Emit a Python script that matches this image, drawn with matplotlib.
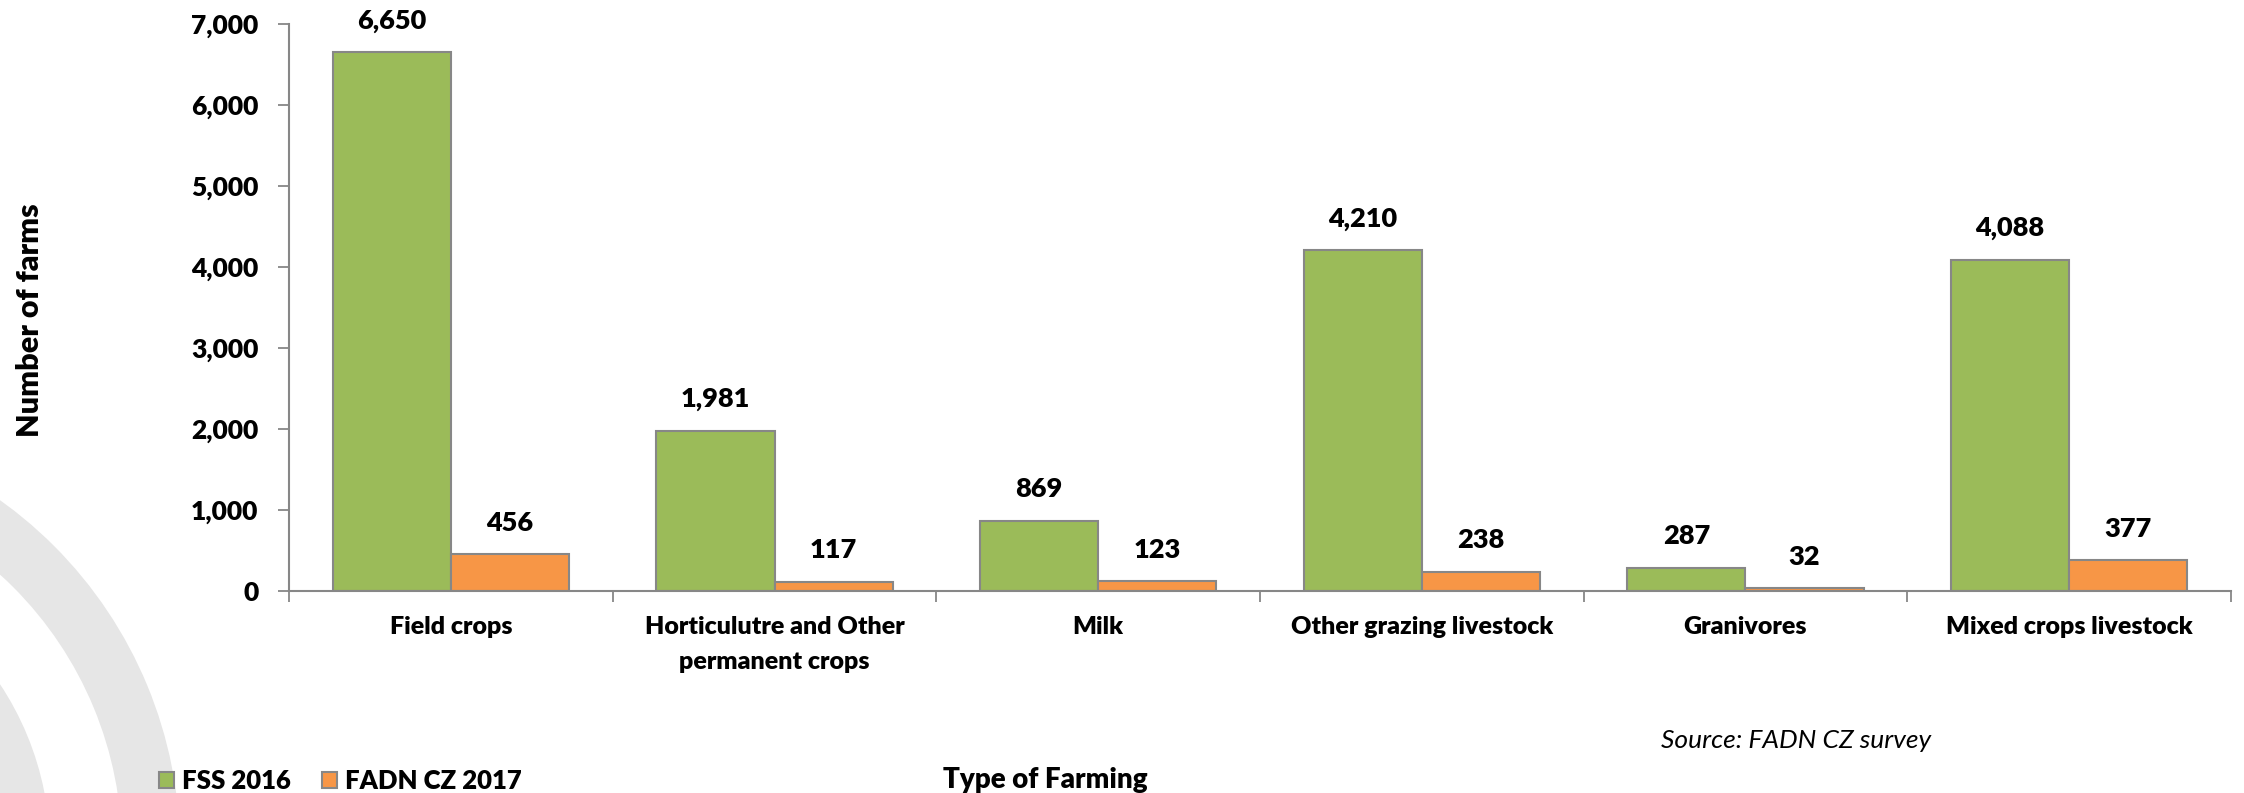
import numpy as np
import matplotlib
matplotlib.use('Agg')
from matplotlib import pyplot as plt
from matplotlib.patches import Wedge, Circle, Patch

# data
categories = ['Field crops', 'Horticulutre and Other\npermanent crops', 'Milk',
              'Other grazing livestock', 'Granivores', 'Mixed crops livestock']
fss_2016 = [6650, 1981, 869, 4210, 287, 4088]
fadn_2017 = [456, 117, 123, 238, 32, 377]
series_names = ['FSS 2016', 'FADN CZ 2017']
y_ticks = [0, 1000, 2000, 3000, 4000, 5000, 6000, 7000]
y_tick_labels = ['0', '1,000', '2,000', '3,000', '4,000', '5,000', '6,000', '7,000']

green = '#9BBB59'
orange = '#F79646'
edge = '#878787'
wt = 'heavy'

plt.rcParams['font.family'] = ['Lato', 'DejaVu Sans']
plt.rcParams['font.weight'] = wt

W, H = 2244, 793
fig = plt.figure(figsize=(W / 100, H / 100), dpi=100)

# faint watermark logo, bottom left (pixel coords)
bg = fig.add_axes([0, 0, 1, 1], zorder=0)
bg.set_xlim(0, W)
bg.set_ylim(H, 0)
bg.axis('off')
bg.add_patch(Wedge((-250, 850), 430, 0, 360, width=58, color='#e6e6e6', lw=0))
bg.add_patch(Circle((-250, 850), 300, color='#e6e6e6', lw=0))

ax = fig.add_axes([289 / W, 1 - 591 / H, (2231 - 289) / W, (591 - 24) / H], zorder=1)
ax.patch.set_alpha(0)

x = np.arange(len(categories))
w = 0.365
b1 = ax.bar(x - w / 2, fss_2016, w, color=green, edgecolor=edge, linewidth=1.5, label=series_names[0])
b2 = ax.bar(x + w / 2, fadn_2017, w, color=orange, edgecolor=edge, linewidth=1.5, label=series_names[1])

for bars, vals in [(b1, fss_2016), (b2, fadn_2017)]:
    for r, v in zip(bars, vals):
        ax.annotate(f'{v:,}', (r.get_x() + r.get_width() / 2, v), xytext=(0, 14),
                    textcoords='offset points', ha='center', va='bottom',
                    fontsize=19.5, fontweight=wt)

ax.set_xlim(-0.5, len(categories) - 0.5)
ax.set_ylim(0, 7000)
ax.set_yticks(y_ticks)
ax.set_yticklabels(y_tick_labels)
ax.set_xticks(np.arange(-0.5, len(categories), 1.0))
ax.set_xticklabels([])
ax.set_xticks(x, minor=True)
ax.set_xticklabels(categories, minor=True, linespacing=1.7)
ax.tick_params(axis='x', which='minor', length=0, pad=18, labelsize=18)
ax.tick_params(axis='x', which='major', length=8, width=1.3, color=edge, direction='out')
ax.tick_params(axis='y', length=8, width=1.3, color=edge, pad=14, labelsize=19)

for s in ['top', 'right']:
    ax.spines[s].set_visible(False)
for s in ['left', 'bottom']:
    ax.spines[s].set_color(edge)
    ax.spines[s].set_linewidth(1.5)

fig.text(30 / W, 1 - 320 / H, 'Number of farms', rotation=90, ha='center', va='center',
         fontsize=22, fontweight=wt)
fig.text(1045 / W, 1 - 780 / H, 'Type of Farming', ha='center', va='center',
         fontsize=20, fontweight=wt)
fig.text(1661 / W, 1 - 740 / H, 'Source: FADN CZ survey', ha='left', va='center',
         fontsize=19, fontweight='normal', style='italic')

handles = [Patch(facecolor=green, edgecolor=edge, linewidth=1.5),
           Patch(facecolor=orange, edgecolor=edge, linewidth=1.5)]
fig.legend(handles, series_names, loc='center left', bbox_to_anchor=(159 / W, 1 - 781 / H),
           ncol=2, frameon=False, fontsize=18.5, handlelength=0.6, handleheight=0.6,
           handletextpad=0.3, columnspacing=1.2, borderpad=0, borderaxespad=0)

fig.savefig('out.png', dpi=100)
